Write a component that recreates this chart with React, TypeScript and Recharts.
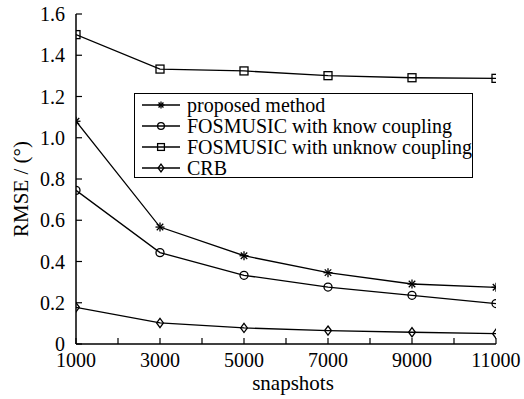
import React from 'react';
import { LineChart, Line, XAxis, YAxis, Label } from 'recharts';

const snapshots = [1000, 3000, 5000, 7000, 9000, 11000];
const proposed = [1.08, 0.567, 0.428, 0.346, 0.291, 0.275];
const knowCoupling = [0.745, 0.443, 0.333, 0.276, 0.236, 0.196];
const unknowCoupling = [1.5, 1.333, 1.324, 1.301, 1.291, 1.288];
const crb = [0.178, 0.102, 0.078, 0.065, 0.057, 0.05];

const xTicks = [1000, 2000, 3000, 4000, 5000, 6000, 7000, 8000, 9000, 10000, 11000];
const xLabelTicks = [1000, 3000, 5000, 7000, 9000, 11000];
const yTicks = [0, 0.2, 0.4, 0.6, 0.8, 1.0, 1.2, 1.4, 1.6];

const seriesNames = [
  'proposed method',
  'FOSMUSIC with know coupling',
  'FOSMUSIC with unknow coupling',
  'CRB',
];

const data = snapshots.map((s, i) => ({
  s,
  proposed: proposed[i],
  know: knowCoupling[i],
  unknow: unknowCoupling[i],
  crb: crb[i],
}));

const FONT = 'Liberation Serif, Times New Roman, serif';
const textStyle = { fontFamily: FONT };

type MarkerKind = 'star' | 'circle' | 'square' | 'diamond';

function markerEl(kind: MarkerKind, cx: number, cy: number, s: number, key?: string) {
  const sw = 1.3;
  if (kind === 'star') {
    const r = s;
    const d = r * 0.72;
    return (
      <g key={key} stroke="#000" strokeWidth={sw}>
        <line x1={cx - r} y1={cy} x2={cx + r} y2={cy} />
        <line x1={cx} y1={cy - r} x2={cx} y2={cy + r} />
        <line x1={cx - d} y1={cy - d} x2={cx + d} y2={cy + d} />
        <line x1={cx - d} y1={cy + d} x2={cx + d} y2={cy - d} />
      </g>
    );
  }
  if (kind === 'circle') {
    return <circle key={key} cx={cx} cy={cy} r={s} fill="none" stroke="#000" strokeWidth={sw} />;
  }
  if (kind === 'square') {
    return (
      <rect key={key} x={cx - s} y={cy - s} width={2 * s} height={2 * s} fill="none" stroke="#000" strokeWidth={sw} />
    );
  }
  return (
    <path
      key={key}
      d={`M${cx},${cy - s * 1.15} L${cx + s * 0.85},${cy} L${cx},${cy + s * 1.15} L${cx - s * 0.85},${cy} Z`}
      fill="none"
      stroke="#000"
      strokeWidth={sw}
    />
  );
}

const makeDot = (kind: MarkerKind) => (props: any) => {
  const { cx, cy, index } = props;
  if (cx == null || cy == null) return <g key={index} />;
  return markerEl(kind, cx, cy, kind === 'star' ? 4.5 : 4, `d${index}`);
};

const kinds: MarkerKind[] = ['star', 'circle', 'square', 'diamond'];

const LegendBox = () => (
  <div
    style={{
      position: 'absolute',
      left: 134,
      top: 93,
      width: 339,
      height: 85,
      boxSizing: 'border-box',
      border: '1.5px solid #000',
      background: '#fff',
      paddingTop: 0,
      fontFamily: FONT,
      fontSize: 20,
      color: '#000',
    }}
  >
    {seriesNames.map((n, i) => (
      <div key={n} style={{ display: 'flex', alignItems: 'center', height: 21, whiteSpace: 'nowrap' }}>
        <svg width={52} height={20} style={{ flex: 'none' }}>
          <line x1={7} y1={10} x2={45} y2={10} stroke="#000" strokeWidth={1.3} />
          {markerEl(kinds[i], 26, 10, 3.4)}
        </svg>
        <span style={{ lineHeight: '20px' }}>{n}</span>
      </div>
    ))}
  </div>
);

const XTick = (props: any) => {
  const { x, y, payload } = props;
  if (!xLabelTicks.includes(payload.value)) return <g />;
  return (
    <text x={x} y={y} dy="0.71em" textAnchor="middle" fontFamily={FONT} style={textStyle} fontSize={20} fill="#000">
      {payload.value}
    </text>
  );
};

const YTick = (props: any) => {
  const { x, y, payload } = props;
  const v = payload.value as number;
  return (
    <text x={x} y={y} dy="0.355em" textAnchor="end" fontFamily={FONT} style={textStyle} fontSize={20} fill="#000">
      {v === 0 ? '0' : v.toFixed(1)}
    </text>
  );
};

export default function App() {
  return (
    <div style={{ position: 'absolute', left: 0, top: 0, width: 524, height: 399, background: '#fff', fontFamily: FONT }}>
      <LineChart width={524} height={399} data={data} margin={{ top: 14, right: 28, bottom: 15, left: 0 }} style={{ fontFamily: FONT }}>
        <XAxis
          xAxisId="b"
          dataKey="s"
          type="number"
          domain={[1000, 11000]}
          ticks={xTicks}
          interval={0}
          height={40}
          tickSize={-6}
          tickMargin={15}
          tick={<XTick />}
          stroke="#000"
          axisLine={{ stroke: '#000', strokeWidth: 1.5 }}
          tickLine={{ stroke: '#000', strokeWidth: 1.2 }}
          allowDataOverflow
        >
          <Label
            content={(p: any) => {
              const vb = p.viewBox;
              return (
                <text
                  x={vb.x + vb.width / 2 + 7}
                  y={vb.y + 46}
                  textAnchor="middle"
                  fontFamily={FONT}
                  style={textStyle}
                  fontSize={21}
                  fill="#000"
                >
                  snapshots
                </text>
              );
            }}
          />
        </XAxis>
        <XAxis
          xAxisId="t"
          orientation="top"
          type="number"
          dataKey="s"
          domain={[1000, 11000]}
          ticks={xTicks}
          interval={0}
          height={0}
          tickSize={-6}
          tick={false}
          axisLine={{ stroke: '#000', strokeWidth: 1.5 }}
          tickLine={{ stroke: '#000', strokeWidth: 1.2 }}
          allowDataOverflow
        />
        <YAxis
          yAxisId="l"
          type="number"
          domain={[0, 1.6]}
          ticks={yTicks}
          interval={0}
          width={76}
          tickSize={-6}
          tickMargin={17}
          tick={<YTick />}
          axisLine={{ stroke: '#000', strokeWidth: 1.5 }}
          tickLine={{ stroke: '#000', strokeWidth: 1.2 }}
          allowDataOverflow
        >
          <Label
            content={(p: any) => {
              const vb = p.viewBox;
              const cx = 21;
              const cy = vb.y + vb.height / 2 + 10;
              return (
                <text
                  x={cx}
                  y={cy}
                  transform={`rotate(-90, ${cx}, ${cy})`}
                  textAnchor="middle"
                  dominantBaseline="central"
                  fontFamily={FONT}
                  style={textStyle}
                  fontSize={21}
                  fill="#000"
                >
                  RMSE / (°)
                </text>
              );
            }}
          />
        </YAxis>
        <YAxis
          yAxisId="r"
          orientation="right"
          type="number"
          domain={[0, 1.6]}
          ticks={yTicks}
          interval={0}
          width={0}
          tickSize={-6}
          tick={false}
          axisLine={{ stroke: '#000', strokeWidth: 1.5 }}
          tickLine={{ stroke: '#000', strokeWidth: 1.2 }}
          allowDataOverflow
        />
        <Line xAxisId="b" yAxisId="l" dataKey="unknow" stroke="#000" strokeWidth={1.3} dot={makeDot('square')} isAnimationActive={false} />
        <Line xAxisId="b" yAxisId="l" dataKey="proposed" stroke="#000" strokeWidth={1.3} dot={makeDot('star')} isAnimationActive={false} />
        <Line xAxisId="b" yAxisId="l" dataKey="know" stroke="#000" strokeWidth={1.3} dot={makeDot('circle')} isAnimationActive={false} />
        <Line xAxisId="b" yAxisId="l" dataKey="crb" stroke="#000" strokeWidth={1.3} dot={makeDot('diamond')} isAnimationActive={false} />
      </LineChart>
      <LegendBox />
    </div>
  );
}
